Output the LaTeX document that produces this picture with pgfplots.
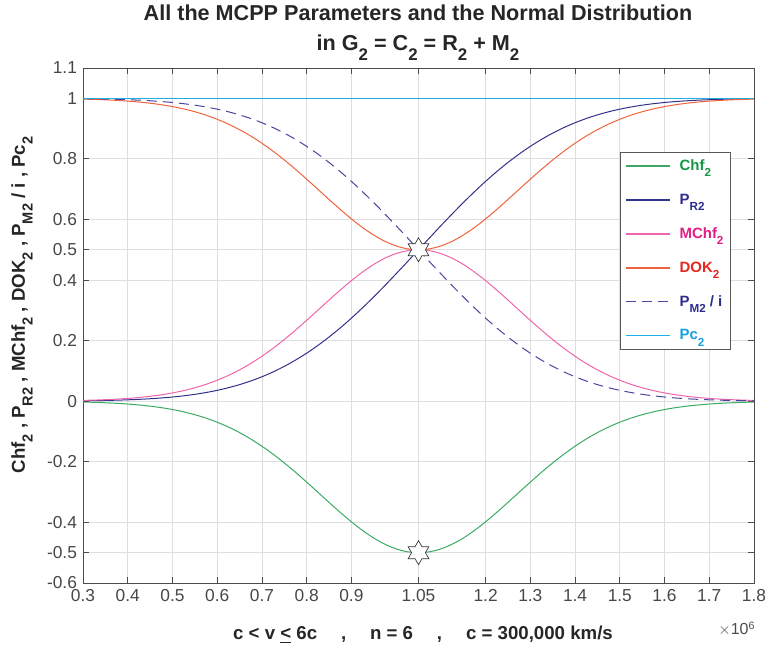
\documentclass[border=0pt]{standalone}
\usepackage{fontspec}
\setmainfont{Liberation Sans}
\newfontfamily\fGreen[Color=149646]{Liberation Sans}
\newfontfamily\fNavy[Color=2D2D8C]{Liberation Sans}
\newfontfamily\fPink[Color=E11E82]{Liberation Sans}
\newfontfamily\fRed[Color=E6281E]{Liberation Sans}
\newfontfamily\fCyan[Color=14A0E1]{Liberation Sans}
\usepackage{pgfplots}
\usepackage{pgfplotstable}
\pgfplotsset{compat=1.18}

\makeatletter
\newlength\subsz
\newcommand{\sub}[1]{\setlength\subsz{0.78\dimexpr\f@size pt\relax}\raisebox{-0.42em}{\fontsize{\strip@pt\subsz}{\strip@pt\subsz}\selectfont #1}}
\makeatother

\definecolor{cGreen}{RGB}{60,170,100}
\definecolor{cNavy}{RGB}{50,50,140}
\definecolor{cPink}{RGB}{240,100,170}
\definecolor{cOrange}{RGB}{240,100,60}
\definecolor{cNavyD}{RGB}{70,70,160}
\definecolor{cCyan}{RGB}{30,175,225}

\pgfdeclareplotmark{hexagram}{%
  \pgfpathmoveto{\pgfqpointpolar{90}{\pgfplotmarksize}}%
  \pgfpathlineto{\pgfqpointpolar{120}{0.577\pgfplotmarksize}}%
  \pgfpathlineto{\pgfqpointpolar{150}{\pgfplotmarksize}}%
  \pgfpathlineto{\pgfqpointpolar{180}{0.577\pgfplotmarksize}}%
  \pgfpathlineto{\pgfqpointpolar{210}{\pgfplotmarksize}}%
  \pgfpathlineto{\pgfqpointpolar{240}{0.577\pgfplotmarksize}}%
  \pgfpathlineto{\pgfqpointpolar{270}{\pgfplotmarksize}}%
  \pgfpathlineto{\pgfqpointpolar{300}{0.577\pgfplotmarksize}}%
  \pgfpathlineto{\pgfqpointpolar{330}{\pgfplotmarksize}}%
  \pgfpathlineto{\pgfqpointpolar{0}{0.577\pgfplotmarksize}}%
  \pgfpathlineto{\pgfqpointpolar{30}{\pgfplotmarksize}}%
  \pgfpathlineto{\pgfqpointpolar{60}{0.577\pgfplotmarksize}}%
  \pgfpathclose
  \pgfusepathqfillstroke
}

% x in units of 10^6 km/s; P = P_R2, M = P_M2/i, Mc = MChf2, C = Chf2, D = DOK2
\pgfplotstableread{
x P M Mc C D
0.300 0.00135 0.99865 0.00270 -0.00270 0.99730
0.325 0.00187 0.99813 0.00373 -0.00373 0.99627
0.350 0.00256 0.99744 0.00511 -0.00511 0.99489
0.375 0.00347 0.99653 0.00692 -0.00692 0.99308
0.400 0.00466 0.99534 0.00928 -0.00928 0.99072
0.425 0.00621 0.99379 0.01234 -0.01234 0.98766
0.450 0.00820 0.99180 0.01627 -0.01627 0.98373
0.475 0.01072 0.98928 0.02121 -0.02121 0.97879
0.500 0.01390 0.98610 0.02741 -0.02741 0.97259
0.525 0.01786 0.98214 0.03508 -0.03508 0.96492
0.550 0.02275 0.97725 0.04446 -0.04446 0.95554
0.575 0.02872 0.97128 0.05579 -0.05579 0.94421
0.600 0.03593 0.96407 0.06928 -0.06928 0.93072
0.625 0.04457 0.95543 0.08517 -0.08517 0.91483
0.650 0.05480 0.94520 0.10359 -0.10359 0.89641
0.675 0.06681 0.93319 0.12469 -0.12469 0.87531
0.700 0.08076 0.91924 0.14848 -0.14848 0.85152
0.725 0.09680 0.90320 0.17486 -0.17486 0.82514
0.750 0.11507 0.88493 0.20366 -0.20366 0.79634
0.775 0.13567 0.86433 0.23453 -0.23453 0.76547
0.800 0.15866 0.84134 0.26697 -0.26697 0.73303
0.825 0.18406 0.81594 0.30036 -0.30036 0.69964
0.850 0.21186 0.78814 0.33395 -0.33395 0.66605
0.875 0.24196 0.75804 0.36683 -0.36683 0.63317
0.900 0.27425 0.72575 0.39807 -0.39807 0.60193
0.925 0.30854 0.69146 0.42669 -0.42669 0.57331
0.950 0.34458 0.65542 0.45169 -0.45169 0.54831
0.975 0.38209 0.61791 0.47219 -0.47219 0.52781
1.000 0.42074 0.57926 0.48744 -0.48744 0.51256
1.025 0.46017 0.53983 0.49683 -0.49683 0.50317
1.050 0.50000 0.50000 0.50000 -0.50000 0.50000
1.075 0.53983 0.46017 0.49683 -0.49683 0.50317
1.100 0.57926 0.42074 0.48744 -0.48744 0.51256
1.125 0.61791 0.38209 0.47219 -0.47219 0.52781
1.150 0.65542 0.34458 0.45169 -0.45169 0.54831
1.175 0.69146 0.30854 0.42669 -0.42669 0.57331
1.200 0.72575 0.27425 0.39807 -0.39807 0.60193
1.225 0.75804 0.24196 0.36683 -0.36683 0.63317
1.250 0.78814 0.21186 0.33395 -0.33395 0.66605
1.275 0.81594 0.18406 0.30036 -0.30036 0.69964
1.300 0.84134 0.15866 0.26697 -0.26697 0.73303
1.325 0.86433 0.13567 0.23453 -0.23453 0.76547
1.350 0.88493 0.11507 0.20366 -0.20366 0.79634
1.375 0.90320 0.09680 0.17486 -0.17486 0.82514
1.400 0.91924 0.08076 0.14848 -0.14848 0.85152
1.425 0.93319 0.06681 0.12469 -0.12469 0.87531
1.450 0.94520 0.05480 0.10359 -0.10359 0.89641
1.475 0.95543 0.04457 0.08517 -0.08517 0.91483
1.500 0.96407 0.03593 0.06928 -0.06928 0.93072
1.525 0.97128 0.02872 0.05579 -0.05579 0.94421
1.550 0.97725 0.02275 0.04446 -0.04446 0.95554
1.575 0.98214 0.01786 0.03508 -0.03508 0.96492
1.600 0.98610 0.01390 0.02741 -0.02741 0.97259
1.625 0.98928 0.01072 0.02121 -0.02121 0.97879
1.650 0.99180 0.00820 0.01627 -0.01627 0.98373
1.675 0.99379 0.00621 0.01234 -0.01234 0.98766
1.700 0.99534 0.00466 0.00928 -0.00928 0.99072
1.725 0.99653 0.00347 0.00692 -0.00692 0.99308
1.750 0.99744 0.00256 0.00511 -0.00511 0.99489
1.775 0.99813 0.00187 0.00373 -0.00373 0.99627
1.800 0.99865 0.00135 0.00270 -0.00270 0.99730
}\data

\begin{document}
\begin{tikzpicture}
\begin{axis}[
  at={(0pt,0pt)}, anchor=south west,
  scale only axis, width=503.25pt, height=386.25pt,
  xmin=0.3, xmax=1.8, ymin=-0.6, ymax=1.1,
  xtick={0.3,0.4,0.5,0.6,0.7,0.8,0.9,1.05,1.2,1.3,1.4,1.5,1.6,1.7,1.8},
  xticklabels={0.3,0.4,0.5,0.6,0.7,0.8,0.9,1.05,1.2,1.3,1.4,1.5,1.6,1.7,1.8},
  ytick={-0.6,-0.5,-0.4,-0.2,0,0.2,0.4,0.5,0.6,0.8,1,1.1},
  yticklabels={-0.6,-0.5,-0.4,-0.2,0,0.2,0.4,0.5,0.6,0.8,1,1.1},
  grid=major, major grid style={black!13, line width=0.6pt},
  tick align=inside, tick pos=both, major tick length=4.5pt,
  axis line style={black!70, line width=0.6pt},
  tick style={black!70, line width=0.6pt},
  ticklabel style={font=\fontsize{13}{15}\selectfont, text=black!72},
  xticklabel style={yshift=-1.5pt},
  yticklabel style={xshift=-1pt},
  legend style={at={(0.966,0.837)}, anchor=north east, draw=black!65,
    line width=0.6pt, font=\fontsize{11.2}{13.5}\selectfont,
    inner xsep=3.5pt, inner ysep=3.5pt, row sep=12pt, cells={anchor=west},
    /tikz/every odd column/.append style={column sep=4.5pt}},
]
\addplot[draw=cGreen, line width=0.75pt, smooth,
  legend image code/.code={\draw[draw=cGreen, line width=1.1pt] (0pt,0pt) -- (33pt,0pt);}] table[x=x, y=C] {\data};
\addlegendentry{\fGreen\bfseries Chf\sub{2}}
\addplot[draw=cNavy, line width=0.75pt, smooth,
  legend image code/.code={\draw[draw=cNavy, line width=1.1pt] (0pt,0pt) -- (33pt,0pt);}] table[x=x, y=P] {\data};
\addlegendentry{\fNavy\bfseries P\sub{R2}}
\addplot[draw=cPink, line width=0.75pt, smooth,
  legend image code/.code={\draw[draw=cPink, line width=1.1pt] (0pt,0pt) -- (33pt,0pt);}] table[x=x, y=Mc] {\data};
\addlegendentry{\fPink\bfseries MChf\sub{2}}
\addplot[draw=cOrange, line width=0.75pt, smooth,
  legend image code/.code={\draw[draw=cOrange, line width=1.1pt] (0pt,0pt) -- (33pt,0pt);}] table[x=x, y=D] {\data};
\addlegendentry{\fRed\bfseries DOK\sub{2}}
\addplot[draw=cNavyD, line width=0.75pt, smooth, dash pattern=on 7.5pt off 4.5pt,
  legend image code/.code={\draw[draw=cNavyD, line width=1.1pt, dash pattern=on 7.5pt off 4.5pt] (0pt,0pt) -- (33pt,0pt);}] table[x=x, y=M] {\data};
\addlegendentry{\fNavy\bfseries P\sub{M2} / i}
\addplot[draw=cCyan, line width=0.75pt,
  legend image code/.code={\draw[draw=cCyan, line width=1.1pt] (0pt,0pt) -- (33pt,0pt);}] coordinates {(0.3,1) (1.8,1)};
\addlegendentry{\fCyan\bfseries Pc\sub{2}}
\addplot[only marks, mark=hexagram, mark size=9pt, mark options={fill=white, draw=black!80, line width=0.5pt}, forget plot] coordinates {(1.05,0.5) (1.05,-0.5)};
\end{axis}
\node[anchor=base, font=\bfseries\fontsize{16.2}{19}\selectfont, text=black!85] at (251.25pt,421.5pt) {All the MCPP Parameters and the Normal Distribution};
\node[anchor=base, font=\bfseries\fontsize{16.2}{19}\selectfont, text=black!85] at (251.25pt,399pt) {in G\sub{2} = C\sub{2} = R\sub{2} + M\sub{2}};
\node[anchor=base, font=\bfseries\fontsize{14}{17}\selectfont, text=black!85] at (255pt,-42.75pt) {c < v \underline{<} 6c \quad , \quad n = 6 \quad , \quad c = 300,000 km/s};
\node[anchor=base west, font=\fontsize{12}{14}\selectfont, text=black!70] at (473pt,-39pt) {$\times$10\textsuperscript{6}};
\node[rotate=90, font=\bfseries\fontsize{14}{17}\selectfont, text=black!85] at (-45.75pt,208.5pt) {Chf\sub{2} , P\sub{R2} , MChf\sub{2} , DOK\sub{2} , P\sub{M2} / i , Pc\sub{2}};
\pgfresetboundingbox
\path[use as bounding box] (-62.25pt,-51.75pt) rectangle (514.5pt,437.25pt);
\end{tikzpicture}
\end{document}
